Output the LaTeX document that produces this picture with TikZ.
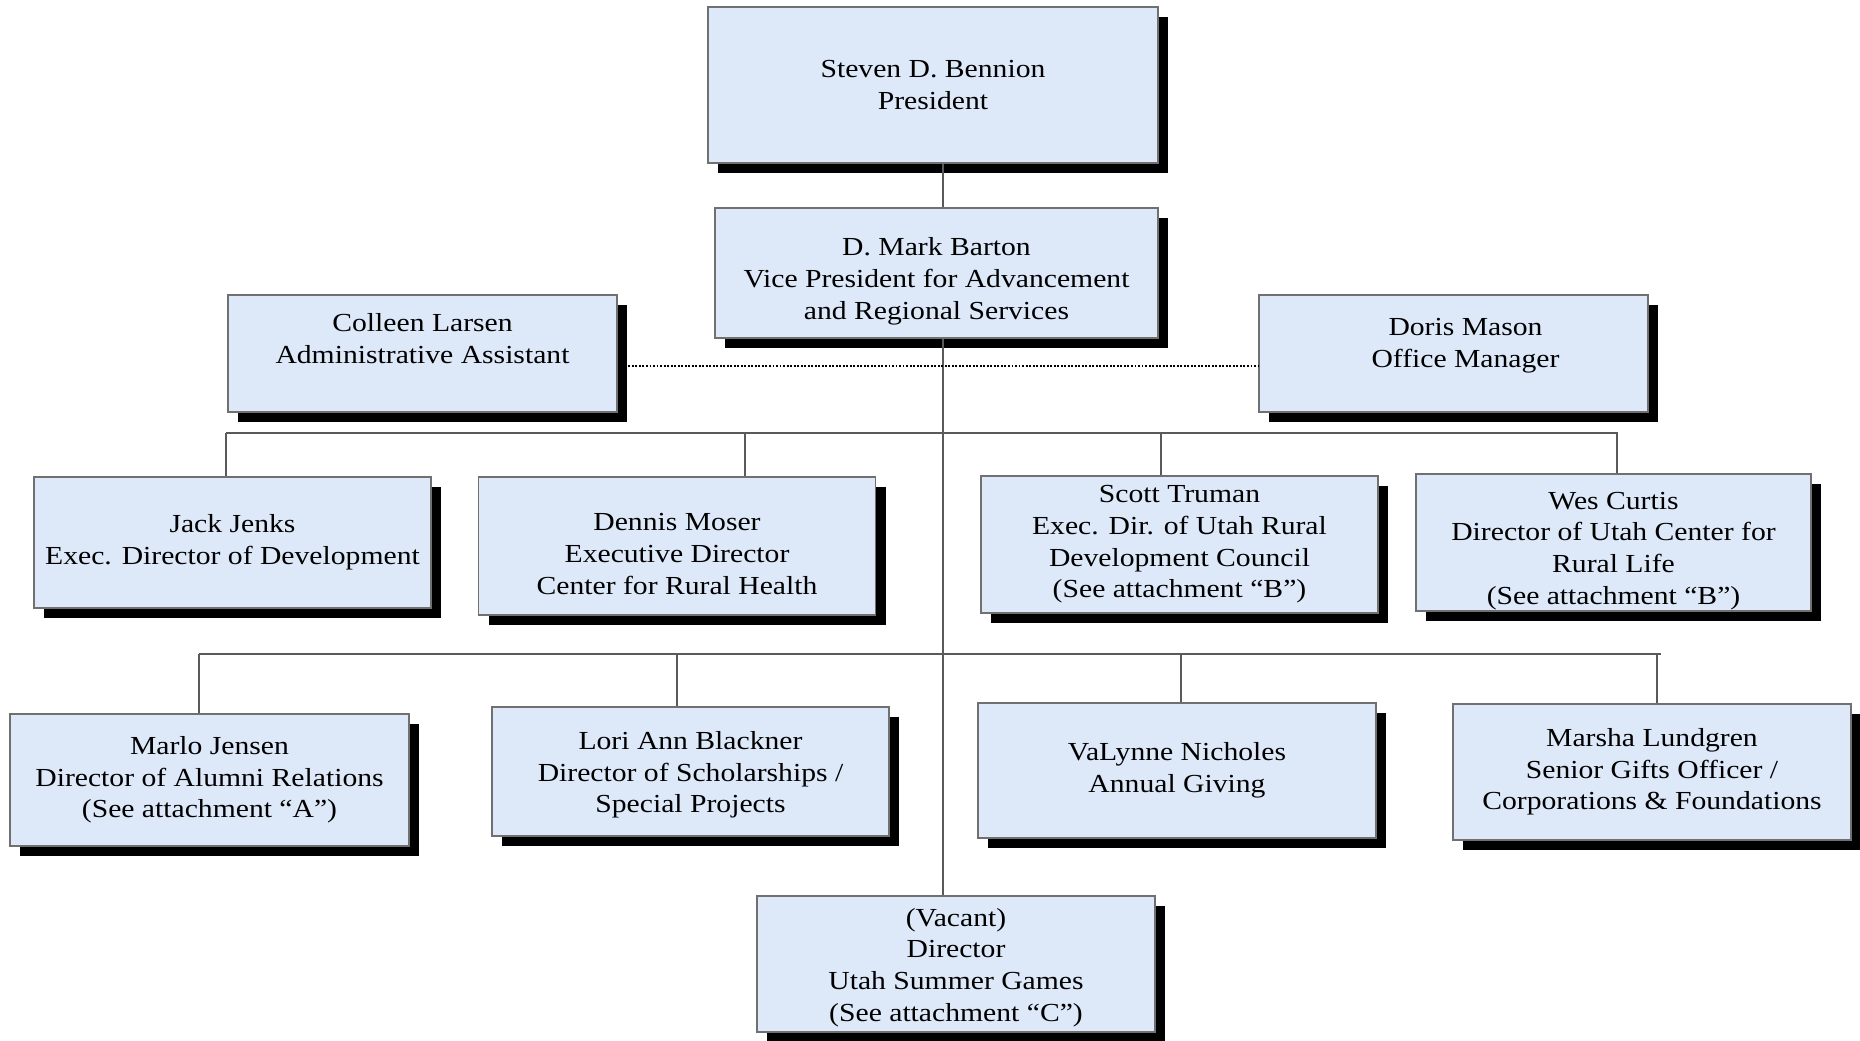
\documentclass[tikz,border=0pt]{standalone}
\usepackage{fontspec}
\setmainfont{Liberation Serif}[FakeStretch=1.14]
\usetikzlibrary{shadows}
\definecolor{boxblue}{RGB}{221,232,249}
\definecolor{boxgray}{RGB}{112,112,112}
\definecolor{linegray}{RGB}{90,90,90}
\tikzset{
	post/.style={draw=boxgray,line width=0.5pt,fill=boxblue,align=center,inner sep=0pt,
		font=\fontsize{7.4}{9}\selectfont,
		drop shadow={shadow xshift=1mm,shadow yshift=-1mm,fill=black,opacity=1}},
	link/.style={draw=linegray,line width=0.45pt},
	dotline/.style={draw=black,line width=0.55pt,dash pattern=on 0.55pt off 0.45pt}
}
\begin{document}
\begin{tikzpicture}[x=0.1mm,y=-0.1mm]
	\useasboundingbox (0,0) rectangle (1860,1040);
	% top of the tree
	\node[post,minimum width=4.5cm,minimum height=1.56cm] (pres) at (933,85) {Steven D. Bennion\\President};
	\node[post,minimum width=4.43cm,minimum height=1.3cm,text height=27.8pt] (vp) at (936.5,273) {D. Mark Barton\\Vice President for Advancement\\and Regional Services};
	\node[post,minimum width=3.89cm,minimum height=1.17cm,text depth=8.5pt] (larsen) at (422.5,353.5) {Colleen Larsen\\Administrative Assistant};
	\node[post,minimum width=3.89cm,minimum height=1.17cm,text depth=6.2pt] (mason) at (1453.5,353.5) {\hspace*{2.4mm}Doris Mason\\\hspace*{2.4mm}Office Manager};
	% first row
	\node[post,minimum width=3.97cm,minimum height=1.31cm] (jenks) at (232.5,542.5) {Jack Jenks\\Exec. Director of Development};
	\node[post,minimum width=3.97cm,minimum height=1.38cm,text height=27.5pt] (moser) at (677,546) {Dennis Moser\\Executive Director\\Center for Rural Health};
	\node[post,minimum width=3.97cm,minimum height=1.37cm] (truman) at (1179.5,544.5) {Scott Truman\\Exec. Dir. of Utah Rural\\Development Council\\(See attachment “B”)};
	\node[post,minimum width=3.95cm,minimum height=1.37cm,text height=36.7pt] (curtis) at (1613.5,542.5) {Wes Curtis\\Director of Utah Center for\\Rural Life\\(See attachment “B”)};
	% second row
	\node[post,minimum width=3.99cm,minimum height=1.32cm] (jensen) at (209.5,780) {Marlo Jensen\\Director of Alumni Relations\\(See attachment “A”)};
	\node[post,minimum width=3.97cm,minimum height=1.29cm,text height=25pt] (blackner) at (690.5,771.5) {Lori Ann Blackner\\Director of Scholarships /\\Special Projects};
	\node[post,minimum width=3.98cm,minimum height=1.35cm] (nicholes) at (1177,770.5) {VaLynne Nicholes\\Annual Giving};
	\node[post,minimum width=3.98cm,minimum height=1.36cm] (lundgren) at (1652,772) {Marsha Lundgren\\Senior Gifts Officer /\\Corporations \& Foundations};
	\node[post,minimum width=3.98cm,minimum height=1.36cm,text height=34pt] (vacant) at (956,964) {(Vacant)\\Director\\Utah Summer Games\\(See attachment “C”)};
	% connectors
	\draw[link] (943,0 |- pres.south) -- (943,0 |- vp.north);
	\draw[link] (943,0 |- vp.south) -- (943,0 |- vacant.north);
	\draw[dotline] (larsen.east |- 0,366) -- (mason.west |- 0,366);
	\draw[link] (226,433) -- (1618,433);
	\foreach \x/\n in {226/jenks,745/moser,1161/truman,1617/curtis}
		\draw[link] (\x,433) -- (\x,0 |- \n.north);
	\draw[link] (199,654) -- (1661,654);
	\foreach \x/\n in {199/jensen,677/blackner,1181/nicholes,1657/lundgren}
		\draw[link] (\x,654) -- (\x,0 |- \n.north);
\end{tikzpicture}
\end{document}
